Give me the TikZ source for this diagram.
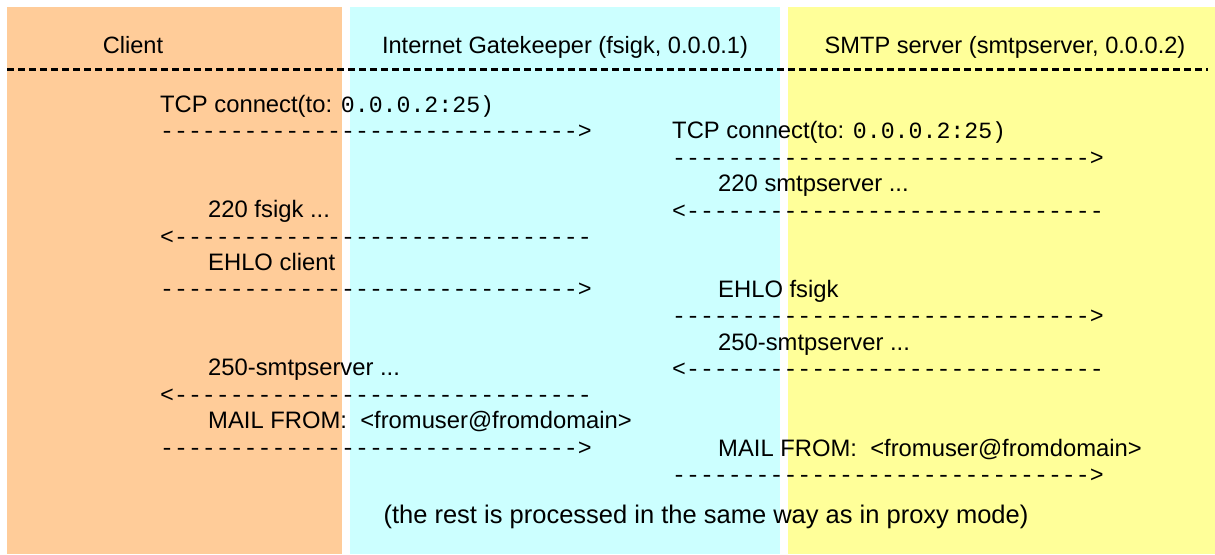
\documentclass[tikz,border=0pt]{standalone}
\usepackage{fontspec}
\setmainfont{Liberation Sans}
\setmonofont{Liberation Mono}
\ExplSyntaxOn
\NewDocumentCommand\dashrun{m}{\prg_replicate:nn{#1}{-{}}}
\ExplSyntaxOff
\definecolor{clientbg}{RGB}{255,204,153}
\definecolor{gatebg}{RGB}{204,255,255}
\definecolor{smtpbg}{RGB}{255,255,153}
\begin{document}
\begin{tikzpicture}[x=1pt,y=-1pt,
  lbl/.style={anchor=base west, inner sep=0pt, font=\fontsize{23.8}{28}\selectfont},
  msg/.style={anchor=base west, inner sep=0pt, font=\fontsize{23.2}{28}\selectfont\ttfamily},
  hdr/.style={anchor=base, inner sep=0pt, font=\fontsize{23.6}{28}\selectfont},
  sep/.style={line width=3pt, dash pattern=on 7pt off 4pt}]
\useasboundingbox (0,0) rectangle (1215,554);
% lanes
\fill[clientbg] (7,7) rectangle (342,554);
\fill[gatebg] (350,7) rectangle (780,554);
\fill[smtpbg] (788,7) rectangle (1215,554);
% headers
\node[hdr] (hClient) at (133,53) {Client};
\node[hdr] (hGate) at (565,53) {Internet Gatekeeper (fsigk, 0.0.0.1)};
\node[hdr] (hSmtp) at (1005,53) {SMTP server (smtpserver, 0.0.0.2)};
\coordinate (sepL) at (7,69);
\coordinate (sepR) at (1208,69);
\draw[sep] (sepL) -- (sepR);
% left side (client <-> gatekeeper)
\node[lbl] (lTcp) at (160,112.5) {TCP connect(to: {\fontsize{23.2}{28}\selectfont\ttfamily 0.0.0.2:25)}};
\node[msg] (lA1) at (160,138.9) {\dashrun{30}>};
\node[lbl] (l220) at (208,217.7) {220 fsigk ...};
\node[msg] (lA2) at (160,244.1) {<\dashrun{30}};
\node[lbl] (lEhlo) at (208,270.5) {EHLO client};
\node[msg] (lA3) at (160,296.9) {\dashrun{30}>};
\node[lbl] (l250) at (208,375.9) {250-smtpserver ...};
\node[msg] (lA4) at (160,402.3) {<\dashrun{30}};
\node[lbl] (lMail) at (208,428.7) {MAIL FROM:\ \ <fromuser@fromdomain>};
\node[msg] (lA5) at (160,455.1) {\dashrun{30}>};
% right side (gatekeeper <-> smtp server)
\node[lbl] (rTcp) at (672,138.9) {TCP connect(to: {\fontsize{23.2}{28}\selectfont\ttfamily 0.0.0.2:25)}};
\node[msg] (rA1) at (672,165.3) {\dashrun{30}>};
\node[lbl] (r220) at (718,191.7) {220 smtpserver ...};
\node[msg] (rA2) at (672,218.1) {<\dashrun{30}};
\node[lbl] (rEhlo) at (718,297.3) {EHLO fsigk};
\node[msg] (rA3) at (672,323.7) {\dashrun{30}>};
\node[lbl] (r250) at (718,350.1) {250-smtpserver ...};
\node[msg] (rA4) at (672,376.5) {<\dashrun{30}};
\node[lbl] (rMail) at (718,456) {MAIL FROM:\ \ <fromuser@fromdomain>};
\node[msg] (rA5) at (672,482.4) {\dashrun{30}>};
% footer
\node[hdr, font=\fontsize{25.5}{30}\selectfont] (rest) at (706,523) {(the rest is processed in the same way as in proxy mode)};
\end{tikzpicture}
\end{document}
